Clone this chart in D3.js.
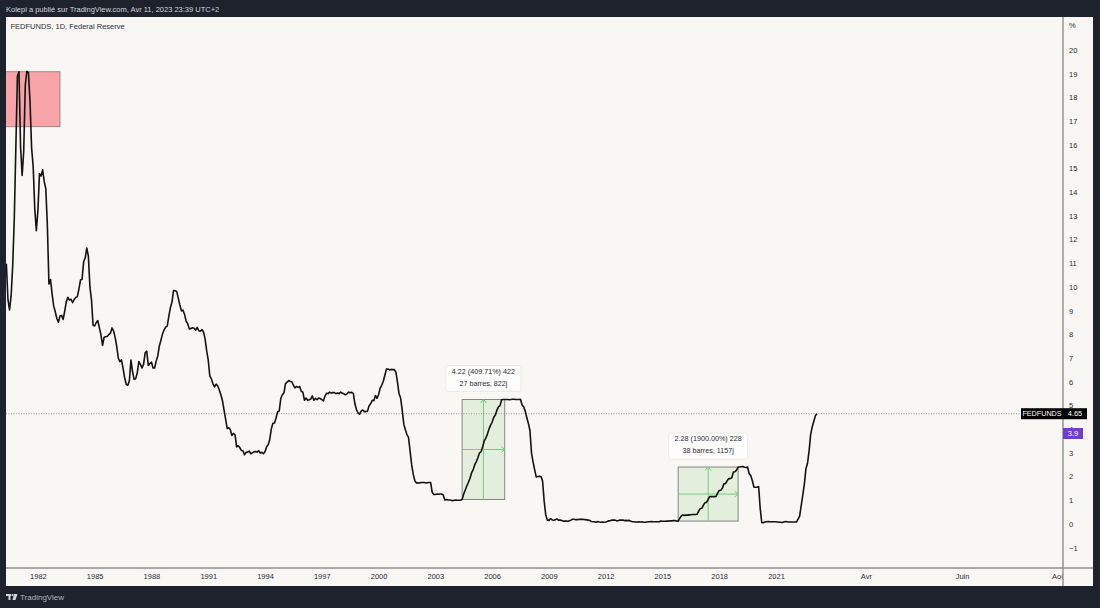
<!DOCTYPE html>
<html>
<head>
<meta charset="utf-8">
<script src="https://cdn.jsdelivr.net/npm/d3@7"></script>
<style>
body{margin:0;background:#1e222d;}
svg{display:block;}
</style>
</head>
<body>
<script>
// monthly FEDFUNDS, first value = May 1980, last = Mar 2023
var firstMonth = "1980-05";
var fedfunds = [
10.98,9.47,9.03,9.61,10.87,12.81,15.85,18.90,
19.08,15.93,14.70,15.72,18.52,19.10,19.04,17.82,15.87,15.08,13.31,12.37,
13.22,14.78,14.68,14.94,14.45,14.15,12.59,10.12,10.31,9.71,9.20,8.95,
8.68,8.51,8.77,8.80,8.63,8.98,9.37,9.56,9.45,9.48,9.34,9.47,
9.56,9.59,9.91,10.29,10.32,11.06,11.23,11.64,11.30,9.99,9.43,8.38,
8.35,8.50,8.58,8.27,7.97,7.53,7.88,7.90,7.92,7.99,8.05,8.27,
8.14,7.86,7.48,6.99,6.85,6.92,6.56,6.17,5.89,5.85,6.04,6.91,
6.43,6.10,6.13,6.37,6.85,6.73,6.58,6.73,7.22,7.29,6.69,6.77,
6.83,6.58,6.58,6.87,7.09,7.51,7.75,8.01,8.19,8.30,8.35,8.76,
9.12,9.36,9.85,9.84,9.81,9.53,9.24,8.99,9.02,8.84,8.55,8.45,
8.23,8.24,8.28,8.26,8.18,8.29,8.15,8.13,8.20,8.11,7.81,7.31,
6.91,6.25,6.12,5.91,5.78,5.90,5.82,5.66,5.45,5.21,4.81,4.43,
4.03,4.06,3.98,3.73,3.82,3.76,3.25,3.30,3.22,3.10,3.09,2.92,
3.02,3.03,3.07,2.96,3.00,3.04,3.06,3.03,3.09,2.99,3.02,2.96,
3.05,3.25,3.34,3.56,4.01,4.25,4.26,4.47,4.73,4.76,5.29,5.45,
5.53,5.92,5.98,6.05,6.01,6.00,5.85,5.74,5.80,5.76,5.80,5.60,
5.56,5.22,5.31,5.22,5.24,5.27,5.40,5.22,5.30,5.24,5.31,5.29,
5.25,5.19,5.39,5.51,5.50,5.56,5.52,5.54,5.54,5.50,5.52,5.50,
5.56,5.51,5.49,5.45,5.49,5.56,5.54,5.55,5.51,5.07,4.83,4.68,
4.63,4.76,4.81,4.74,4.74,4.76,4.99,5.07,5.22,5.20,5.42,5.30,
5.45,5.73,5.85,6.02,6.27,6.53,6.54,6.50,6.52,6.51,6.51,6.40,
5.98,5.49,5.31,4.80,4.21,3.97,3.77,3.65,3.07,2.49,2.09,1.82,
1.73,1.74,1.73,1.75,1.75,1.75,1.73,1.74,1.75,1.75,1.34,1.24,
1.24,1.26,1.25,1.26,1.26,1.22,1.01,1.03,1.01,1.01,1.00,0.98,
1.00,1.01,1.00,1.00,1.00,1.03,1.26,1.43,1.61,1.76,1.93,2.16,
2.28,2.50,2.63,2.79,3.00,3.04,3.26,3.50,3.62,3.78,4.00,4.16,
4.29,4.49,4.59,4.79,4.94,4.99,5.24,5.25,5.25,5.25,5.25,5.24,
5.25,5.26,5.26,5.25,5.25,5.25,5.26,5.02,4.94,4.76,4.49,4.24,
3.94,2.98,2.61,2.28,1.98,2.00,2.01,2.00,1.81,0.97,0.39,0.16,
0.15,0.22,0.18,0.15,0.18,0.21,0.16,0.16,0.15,0.12,0.12,0.12,
0.11,0.13,0.16,0.20,0.20,0.18,0.18,0.19,0.19,0.19,0.19,0.18,
0.17,0.16,0.14,0.10,0.09,0.09,0.07,0.10,0.08,0.07,0.08,0.07,
0.08,0.10,0.13,0.14,0.16,0.16,0.16,0.13,0.14,0.16,0.16,0.16,
0.14,0.15,0.14,0.15,0.11,0.09,0.09,0.08,0.08,0.09,0.08,0.09,
0.07,0.07,0.08,0.09,0.09,0.10,0.09,0.09,0.09,0.09,0.09,0.12,
0.11,0.11,0.11,0.12,0.12,0.13,0.13,0.14,0.14,0.12,0.12,0.24,
0.34,0.38,0.36,0.37,0.37,0.38,0.39,0.40,0.40,0.40,0.41,0.54,
0.65,0.66,0.79,0.90,0.91,1.04,1.15,1.16,1.15,1.15,1.16,1.30,
1.41,1.42,1.51,1.69,1.70,1.82,1.91,1.91,1.95,2.19,2.20,2.27,
2.40,2.40,2.41,2.42,2.39,2.38,2.40,2.13,2.04,1.83,1.55,1.55,
1.55,1.58,0.65,0.05,0.05,0.08,0.09,0.10,0.09,0.09,0.09,0.09,
0.09,0.08,0.07,0.07,0.06,0.08,0.10,0.09,0.08,0.08,0.08,0.08,
0.08,0.08,0.20,0.33,0.77,1.21,1.68,2.33,2.56,3.08,3.78,4.10,
4.33,4.57,4.65
];

var xTickLabels = ["1982","1985","1988","1991","1994","1997","2000","2003","2006","2009","2012","2015","2018","2021","Avr","Juin","Aoû"];
var xTickDates = ["1982-01-01","1985-01-01","1988-01-01","1991-01-01","1994-01-01","1997-01-01","2000-01-01","2003-01-01","2006-01-01","2009-01-01","2012-01-01","2015-01-01","2018-01-01","2021-01-01","2023-04-01","2023-06-01","2023-08-01"];
var yTicks = [-1,0,1,2,3,4,5,6,7,8,9,10,11,12,13,14,15,16,17,18,19,20];

// price range tools
var measureFrom = ["2004-06-01","2015-11-01"];
var measureTo = ["2006-09-01","2019-01-01"];
var measureLine1 = ["4.22 (409.71%) 422","2.28 (1900.00%) 228"];
var measureLine2 = ["27 barres, 822j","38 barres, 1157j"];

// red zone
var zoneDates = ["1980-01-01","1983-03-01"];
var zoneValues = [16.76,19.08];

var lastLabel = "FEDFUNDS";
var lastValue = 4.65;
var otherValue = 3.9;

var W = 1100, H = 608;
var panL = 6, panR = 1093, panT = 17, panB = 586;
var plotR = 1063, plotB = 568;
var font = "'Liberation Sans', Arial, sans-serif";

var lastIdx = fedfunds.length - 1;
var baseMonth = 1980 * 12 + 4;
function barOf(s) {
  var d = new Date(s + "T00:00:00Z");
  var m = d.getUTCFullYear() * 12 + d.getUTCMonth() - baseMonth;
  if (m <= lastIdx) return m;
  var lastDate = Date.UTC(2023, 2, 1);
  return lastIdx + (d.getTime() - lastDate) / 86400000;
}

var x = d3.scaleLinear().domain([-0.23, 670]).range([panL, plotR]);
var y = d3.scaleLinear().domain([-1.86, 21.39]).range([plotB, panT]);

var svg = d3.select("body").append("svg").attr("width", W).attr("height", H);

svg.append("rect").attr("width", W).attr("height", H).attr("fill", "#1e222d");
svg.append("rect").attr("x", panL).attr("y", panT).attr("width", panR - panL).attr("height", panB - panT).attr("fill", "#f8f7f3");

var defs = svg.append("defs");
defs.append("clipPath").attr("id", "plotclip")
  .append("rect").attr("x", panL).attr("y", panT).attr("width", plotR - panL).attr("height", plotB - panT);
defs.append("clipPath").attr("id", "xclip")
  .append("rect").attr("x", panL).attr("y", plotB).attr("width", plotR - panL).attr("height", panB - plotB);

var plot = svg.append("g").attr("clip-path", "url(#plotclip)");

// red zone
plot.append("rect")
  .attr("x", x(barOf(zoneDates[0])))
  .attr("y", y(zoneValues[1]))
  .attr("width", x(barOf(zoneDates[1])) - x(barOf(zoneDates[0])))
  .attr("height", y(zoneValues[0]) - y(zoneValues[1]))
  .attr("fill", "#f6a4a7")
  .attr("stroke", "#7d7d7d")
  .attr("stroke-width", 0.8);

// measure boxes
var green = "#7ccb7e";
measureFrom.forEach(function (f, i) {
  var b0 = barOf(f), b1 = barOf(measureTo[i]);
  var v0 = fedfunds[b0], v1 = fedfunds[b1];
  var x0 = x(b0), x1 = x(b1), yt = y(v1), yb = y(v0);
  var cx = (x0 + x1) / 2, cy = (yt + yb) / 2;
  plot.append("rect").attr("x", x0).attr("y", yt).attr("width", x1 - x0).attr("height", yb - yt)
    .attr("fill", "#e3eedd").attr("stroke", "#858585").attr("stroke-width", 1);
  var g = plot.append("g").attr("stroke", green).attr("stroke-width", 1).attr("fill", "none");
  g.append("line").attr("x1", cx).attr("x2", cx).attr("y1", yb).attr("y2", yt);
  g.append("path").attr("d", "M" + (cx - 3) + "," + (yt + 3.5) + "L" + cx + "," + yt + "L" + (cx + 3) + "," + (yt + 3.5));
  g.append("line").attr("x1", x0).attr("x2", x1).attr("y1", cy).attr("y2", cy);
  g.append("path").attr("d", "M" + (x1 - 3.5) + "," + (cy - 3) + "L" + x1 + "," + cy + "L" + (x1 - 3.5) + "," + (cy + 3));
});

// dotted last value line
plot.append("line")
  .attr("x1", panL).attr("x2", 1021)
  .attr("y1", y(lastValue)).attr("y2", y(lastValue))
  .attr("stroke", "#9a9a9a").attr("stroke-width", 1).attr("stroke-dasharray", "1,1.5");

// series line
var line = d3.line().x(function (d, i) { return x(i); }).y(function (d) { return y(d); });
plot.append("path").datum(fedfunds)
  .attr("d", line)
  .attr("fill", "none")
  .attr("stroke", "#131313")
  .attr("stroke-width", 1.6)
  .attr("stroke-linejoin", "round");

// measure labels
measureFrom.forEach(function (f, i) {
  var b0 = barOf(f), b1 = barOf(measureTo[i]);
  var cx = (x(b0) + x(b1)) / 2, yt = y(fedfunds[b1]);
  var g = svg.append("g");
  var bg = g.append("rect");
  var t1 = g.append("text").attr("x", cx).attr("y", yt - 26).text(measureLine1[i]);
  var t2 = g.append("text").attr("x", cx).attr("y", yt - 14).text(measureLine2[i]);
  g.selectAll("text").attr("text-anchor", "middle").attr("font-family", font)
    .attr("font-size", 7.2).attr("fill", "#2a2e39");
  var w = Math.max(t1.node().getComputedTextLength(), t2.node().getComputedTextLength()) + 12;
  bg.attr("x", cx - w / 2).attr("y", yt - 34).attr("width", w).attr("height", 26)
    .attr("rx", 2).attr("fill", "#fdfdfb").attr("stroke", "#ecebe6").attr("stroke-width", 1);
});

// y axis
var yAxis = svg.append("g").attr("transform", "translate(" + plotR + ",0)")
  .call(d3.axisRight(y).tickValues(yTicks).tickSize(0).tickPadding(6).tickFormat(function (d) { return d < 0 ? "\u2212" + Math.abs(d) : d; }));
yAxis.select(".domain").remove();
yAxis.selectAll("text").attr("font-family", font).attr("font-size", 7.5).attr("fill", "#2a2e39");
svg.append("text").attr("x", plotR + 6).attr("y", 28).text("%")
  .attr("font-family", font).attr("font-size", 7.5).attr("fill", "#2a2e39");

// x axis (clipped at the price scale like the original)
var xAxis = svg.append("g").attr("clip-path", "url(#xclip)").append("g")
  .attr("transform", "translate(0," + plotB + ")")
  .call(d3.axisBottom(x).tickValues(xTickDates.map(barOf)).tickSize(0).tickPadding(6)
    .tickFormat(function (d, i) { return xTickLabels[i]; }));
xAxis.select(".domain").remove();
xAxis.selectAll("text").attr("font-family", font).attr("font-size", 7.5).attr("fill", "#2a2e39");

// frame lines
svg.append("line").attr("x1", plotR).attr("x2", plotR).attr("y1", panT).attr("y2", panB)
  .attr("stroke", "#8e8e8e").attr("stroke-width", 1.4);
svg.append("line").attr("x1", panL).attr("x2", panR).attr("y1", plotB).attr("y2", plotB)
  .attr("stroke", "#8e8e8e").attr("stroke-width", 1.4);

// right side labels
var ly = y(lastValue);
svg.append("rect").attr("x", 1021).attr("y", ly - 5.5).attr("width", 42).attr("height", 11).attr("fill", "#000");
svg.append("text").attr("x", 1042).attr("y", ly + 2.6).attr("text-anchor", "middle").text(lastLabel)
  .attr("font-family", font).attr("font-size", 7.2).attr("fill", "#fff");
svg.append("rect").attr("x", plotR).attr("y", ly - 5.5).attr("width", 24).attr("height", 11).attr("fill", "#000");
svg.append("text").attr("x", plotR + 12).attr("y", ly + 2.6).attr("text-anchor", "middle").text(lastValue.toFixed(2))
  .attr("font-family", font).attr("font-size", 7.5).attr("fill", "#fff");
var oy = y(otherValue) + 2;
svg.append("rect").attr("x", plotR).attr("y", oy - 5.5).attr("width", 20).attr("height", 11).attr("fill", "#6e3fcf");
svg.append("text").attr("x", plotR + 10).attr("y", oy + 2.6).attr("text-anchor", "middle").text(otherValue)
  .attr("font-family", font).attr("font-size", 7.5).attr("fill", "#fff");

// header / legend / footer
svg.append("text").attr("x", 6).attr("y", 11.5).text("Kolepi a publié sur TradingView.com, Avr 11, 2023 23:39 UTC+2")
  .attr("font-family", font).attr("font-size", 7.5).attr("fill", "#d1d4dc");
svg.append("text").attr("x", 10.5).attr("y", 28.5).text("FEDFUNDS, 1D, Federal Reserve")
  .attr("font-family", font).attr("font-size", 7.5).attr("fill", "#2a2e39");
var logo = svg.append("g").attr("fill", "#d1d4dc");
logo.append("rect").attr("x", 6).attr("y", 594).attr("width", 5).attr("height", 2);
logo.append("rect").attr("x", 8.5).attr("y", 594).attr("width", 2).attr("height", 6);
logo.append("circle").attr("cx", 12.5).attr("cy", 595).attr("r", 1.1);
logo.append("path").attr("d", "M14,594 L17.5,594 L15.5,600 L12.5,600 Z");
svg.append("text").attr("x", 20).attr("y", 600).text("TradingView")
  .attr("font-family", font).attr("font-size", 8).attr("fill", "#b2b5be");
</script>
</body>
</html>
